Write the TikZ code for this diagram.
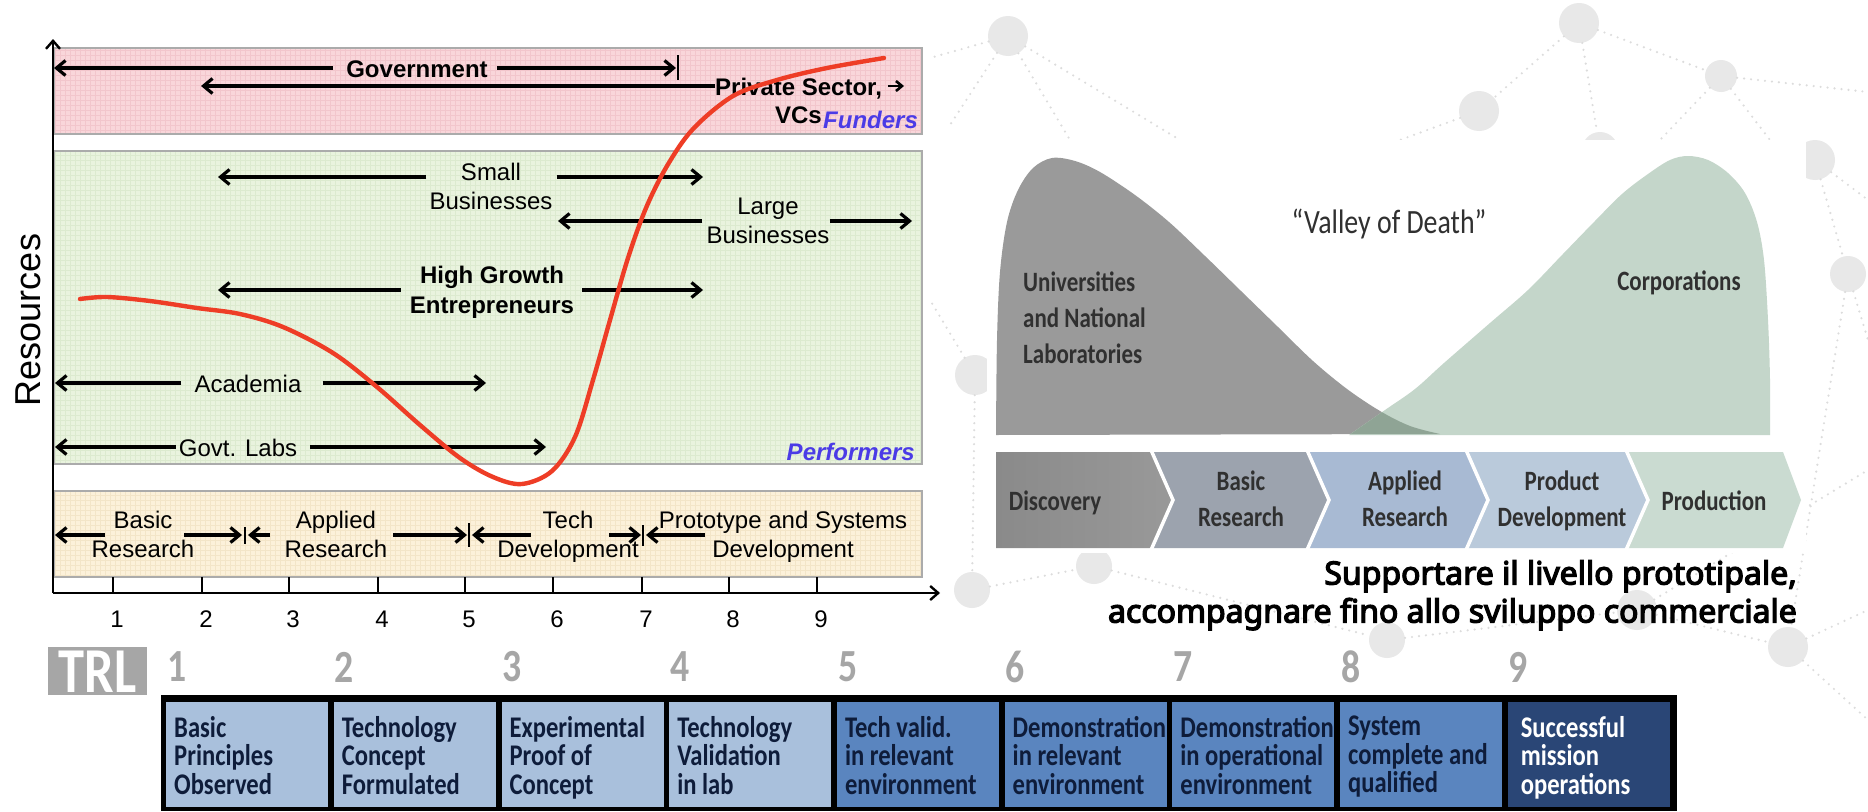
\documentclass[tikz,border=0pt]{standalone}
\usepackage{fontspec}
\setmainfont{Liberation Sans}
\newfontfamily\calfont{Carlito}
\newfontfamily\calcond[FakeStretch=0.82]{Carlito}
\newfontfamily\segfont[FakeBold=4]{Noto Sans}
\usetikzlibrary{arrows.meta}
\definecolor{pinkf}{HTML}{F9D6DA}
\definecolor{pinkg}{HTML}{F2C6CC}
\definecolor{greenf}{HTML}{E9F3DE}
\definecolor{greeng}{HTML}{DCEACF}
\definecolor{yelf}{HTML}{FCF1DA}
\definecolor{yelg}{HTML}{F3E5C8}
\definecolor{boxb}{HTML}{ABABAB}
\definecolor{redc}{HTML}{EE3D26}
\definecolor{bluel}{HTML}{4B3BE6}
\definecolor{trlA}{HTML}{A9C0DC}
\definecolor{trlB}{HTML}{5A85BF}
\definecolor{trlC}{HTML}{2A4676}
\definecolor{trlT}{HTML}{0E1C3A}
\definecolor{trlG}{HTML}{A6A6A6}
\definecolor{netc}{HTML}{E8E8E8}
\definecolor{netl}{HTML}{DCDCDC}
\definecolor{humpG}{HTML}{9A9A9A}
\definecolor{humpS}{HTML}{C4D6CA}
\definecolor{humpO}{HTML}{8FA495}
\definecolor{chA}{HTML}{8A8A8A}
\definecolor{chAr}{HTML}{999999}
\definecolor{chB}{HTML}{9CA3AE}
\definecolor{chC}{HTML}{A8BAD3}
\definecolor{chD}{HTML}{BACADB}
\definecolor{chE}{HTML}{CADBD1}
\definecolor{vtxt}{HTML}{303030}
\tikzset{
  lab/.style={inner sep=0pt, align=center, font=\fontsize{24}{29}\selectfont},
  blab/.style={inner sep=0pt, align=center, font=\fontsize{24}{30}\selectfont\bfseries},
  flab/.style={inner sep=0pt, font=\fontsize{24}{29}\selectfont\bfseries\itshape, text=bluel},
  arr/.style={line width=3.2pt, -{Straight Barb[length=9pt,width=15pt]}},
  sarr/.style={line width=2.6pt, -{Straight Barb[length=6pt,width=10pt]}},
  barline/.style={line width=2.6pt},
  band/.style={draw=boxb, line width=2pt},
  axis/.style={line width=2.4pt},
  redcurve/.style={draw=redc, line width=4.4pt, line cap=round},
  tickline/.style={line width=2.2pt},
  trlcell/.style={rectangle, inner sep=0pt, minimum width=162pt, minimum height=105pt},
  trltext/.style={inner sep=0pt, align=left, font=\calcond\bfseries\fontsize{30}{28.5}\selectfont},
  trldig/.style={inner sep=0pt, text=trlG, font=\calcond\bfseries\fontsize{46}{46}\selectfont},
  vtext/.style={inner sep=0pt, text=vtxt, font=\calcond\bfseries\fontsize{28}{36}\selectfont},
  netnode/.style={circle, fill=netc, inner sep=0pt, minimum size=#1},
  netline/.style={draw=netl, line width=2.4pt, line cap=round, dash pattern=on 0pt off 7pt},
}
\begin{document}
\begin{tikzpicture}[x=1pt,y=-1pt]
\useasboundingbox (0,0) rectangle (1868,811);
\fill[white] (0,0) rectangle (1868,811);

% ---------- background network ----------
\node[netnode=40pt] (n1) at (1008,36) {};
\node[netnode=40pt] (n2) at (1579,23) {};
\node[netnode=32pt] (n3) at (1721,76) {};
\node[netnode=40pt] (n4) at (1479,111) {};
\node[netnode=36pt] (n5) at (1600,150) {};
\node[netnode=40pt] (n6) at (1815,160) {};
\node[netnode=36pt] (n7) at (1848,274) {};
\node[netnode=40pt] (n8) at (975,375) {};
\node[netnode=36pt] (n9) at (972,590) {};
\node[netnode=36pt] (n10) at (1094,566) {};
\node[netnode=36pt] (n11) at (1387,640) {};
\node[netnode=40pt] (n12) at (1637,610) {};
\node[netnode=40pt] (n13) at (1788,647) {};
\coordinate (f1) at (930,58);
\coordinate (f2) at (950,125);
\coordinate (f3) at (1070,140);
\coordinate (f4) at (1180,140);
\coordinate (f5) at (1868,92);
\coordinate (f6) at (1660,140);
\coordinate (f7) at (1770,140);
\coordinate (f8) at (1868,340);
\coordinate (f9) at (930,300);
\coordinate (f10) at (1868,610);
\coordinate (f11) at (1868,720);
\coordinate (f12) at (1868,200);
\coordinate (f13) at (1400,140);
\coordinate (f14) at (1868,470);
\foreach \a/\b in {n1/f1,n1/f2,n1/f3,n1/f4,n2/n4,n2/n5,n2/n3,n3/f5,n3/f6,n3/f7,n4/f13,n6/n7,n7/f8,n6/f12,n8/f9,n8/n9,n9/n10,n10/n11,n11/n12,n12/n13,n13/f10,n13/f11,n7/n13,n12/f14}
  \draw[netline] (\a) -- (\b);

% ---------- left chart: bands ----------
\fill[pinkf] (54,48) rectangle (922,134);
\draw[pinkg, line width=0.5pt, step=5pt] (54,48) grid (922,134);
\draw[band] (54,48) rectangle (922,134);
\fill[greenf] (54,151) rectangle (922,464);
\draw[greeng, line width=0.5pt, step=5pt] (54,151) grid (922,464);
\draw[band] (54,151) rectangle (922,464);
\fill[yelf] (54,491) rectangle (922,577);
\draw[yelg, line width=0.5pt, step=5pt] (54,491) grid (922,577);
\draw[band] (54,491) rectangle (922,577);

% axes
\coordinate (org) at (53,593);
\coordinate (ytop) at (53,39);
\coordinate (xend) at (940,593);
\draw[axis, -{Straight Barb[length=8pt,width=14pt]}] (org) -- (ytop);
\draw[axis, -{Straight Barb[length=8pt,width=14pt]}] (org) -- (xend);
\foreach \x/\k in {113/1,202/2,289/3,378/4,465/5,553/6,642/7,729/8,817/9}{
  \draw[tickline] (\x,577) -- (\x,593);
  \node[lab, anchor=base] (tk\k) at (\x+4,627) {\k};
}
\node[inner sep=0pt, rotate=90, font=\fontsize{36}{40}\selectfont] (res) at (28,320) {Resources};

% ---------- funders ----------
\node[blab, anchor=base] (gov) at (417,77) {Government};
\coordinate (govL) at (54,68);
\coordinate (govR) at (676,68);
\draw[arr, shorten <=13pt] (gov.west |- govL) -- (govL);
\draw[arr, shorten <=9pt] (gov.east |- govR) -- (govR);
\draw[barline] (678,55) -- (678,80);
\node[blab, anchor=base west] (priv) at (715,95) {Private Sector,};
\coordinate (privL) at (201,86);
\coordinate (privS) at (888,86);
\coordinate (privE) at (904,86);
\draw[arr] (priv.west |- privL) -- (privL);
\draw[sarr] (privS) -- (privE);
\node[blab, anchor=base east] (vcs) at (822,123) {VCs};
\node[flab, anchor=base west] (fund) at (823,128) {Funders};

% ---------- performers ----------
\node[lab, anchor=north] (sb) at (491,163) {Small\\Businesses};
\coordinate (sbL) at (218,177);
\coordinate (sbR) at (703,177);
\draw[arr, shorten <=3pt] (sb.west |- sbL) -- (sbL);
\draw[arr, shorten <=4pt] (sb.east |- sbR) -- (sbR);
\node[lab, anchor=north] (lb) at (768,198) {Large\\Businesses};
\coordinate (lbL) at (558,221);
\coordinate (lbR) at (912,221);
\draw[arr, shorten <=4pt] (lb.west |- lbL) -- (lbL);
\draw[arr, shorten <=0pt] (lb.east |- lbR) -- (lbR);
\node[blab, anchor=north] (hg) at (492,266) {High Growth\\Entrepreneurs};
\coordinate (hgL) at (218,290);
\coordinate (hgR) at (703,290);
\draw[arr, shorten <=9pt] (hg.west |- hgL) -- (hgL);
\draw[arr, shorten <=8pt] (hg.east |- hgR) -- (hgR);
\node[lab, anchor=base] (aca) at (248,392) {Academia};
\coordinate (acaL) at (55,383);
\coordinate (acaR) at (486,383);
\draw[arr, shorten <=13pt] (aca.west |- acaL) -- (acaL);
\draw[arr, shorten <=21pt] (aca.east |- acaR) -- (acaR);
\node[lab, anchor=base] (gl) at (238,456) {Govt. Labs};
\coordinate (glL) at (55,447);
\coordinate (glR) at (546,447);
\draw[arr, shorten <=3pt] (gl.west |- glL) -- (glL);
\draw[arr, shorten <=13pt] (gl.east |- glR) -- (glR);
\node[flab, anchor=base east] (perf) at (915,460) {Performers};

% ---------- stages ----------
\node[lab, anchor=north] (br) at (143,511) {Basic\\Research};
\node[lab, anchor=north] (ar) at (336,511) {Applied\\Research};
\node[lab, anchor=north] (td) at (568,511) {Tech\\Development};
\node[lab, anchor=north] (pd) at (783,511) {Prototype and Systems\\Development};
\coordinate (s0) at (55,535);
\coordinate (s1) at (105,535);
\coordinate (s2) at (184,535);
\coordinate (s3) at (242,535);
\coordinate (s4) at (270,535);
\coordinate (s5) at (248,535);
\coordinate (s6) at (393,535);
\coordinate (s7) at (467,535);
\coordinate (s8) at (531,535);
\coordinate (s9) at (472,535);
\coordinate (s10) at (609,535);
\coordinate (s11) at (641,535);
\coordinate (s12) at (705,535);
\coordinate (s13) at (646,535);
\draw[arr] (s1) -- (s0);
\draw[arr] (s2) -- (s3);
\draw[arr] (s4) -- (s5);
\draw[arr] (s6) -- (s7);
\draw[arr] (s8) -- (s9);
\draw[arr] (s10) -- (s11);
\draw[arr] (s12) -- (s13);
\draw[barline] (245,527) -- (245,544);
\draw[barline] (469,523) -- (469,547);
\draw[barline] (643,525) -- (643,546);

% ---------- red curve ----------
\draw[redcurve] plot[smooth, tension=0.55] coordinates {(80,299) (107,297) (150,301) (197,308) (240,314) (283,327) (333,353) (377,387) (420,425) (460,458) (493,477) (522,484) (552,471) (575,437) (593,380) (610,320) (628,258) (646,208) (667,166) (693,129) (733,96) (777,80) (827,68) (884,58)};

% ---------- TRL row ----------
\fill[trlG] (48,647) rectangle (147,695);
\node[inner sep=0pt, text=white, font=\calcond\bfseries\fontsize{64}{64}\selectfont] (trl) at (97.5,672) {TRL};
\fill[black] (161,695) rectangle (1677,811);
\foreach \i/\c/\tc/\txt in {
 1/trlA/trlT/{Basic\\Principles\\Observed},
 2/trlA/trlT/{Technology\\Concept\\Formulated},
 3/trlA/trlT/{Experimental\\Proof of\\Concept},
 4/trlA/trlT/{Technology\\Validation\\in lab},
 5/trlB/trlT/{Tech valid.\\in relevant\\environment},
 6/trlB/trlT/{Demonstration\\in relevant\\environment},
 7/trlB/trlT/{Demonstration\\in operational\\environment},
 8/trlB/trlT/{System\\complete and\\qualified},
 9/trlC/white/{Successful\\mission\\operations}}{
  \pgfmathsetmacro\bx{166+167.7*(\i-1)}
  \pgfmathsetmacro\ind{\i==9 ? 13 : 8}
  \node[trlcell, fill=\c, anchor=north west] (c\i) at (\bx,702) {};
  \node[trltext, text=\tc, anchor=north west] (t\i) at (\bx+\ind,716) {\txt};
  \node[trldig, anchor=west] (d\i) at (\bx+1,667) {\i};
}

% ---------- valley of death ----------
\fill[white] (987,140) rectangle (1806,553);
\def\grayhump{(996,435) -- plot[smooth, tension=0.55] coordinates {(996,435) (997,340) (1000,272) (1007,222) (1018,190) (1033,168) (1052,158) (1075,161) (1100,172) (1135,195) (1169,222) (1205,256) (1241,291) (1278,327) (1313,361) (1347,389) (1380,411) (1410,426) (1440,434)} -- cycle}
\def\greenhump{(1349,435) -- plot[smooth, tension=0.55] coordinates {(1349,435) (1385,410) (1415,389) (1444,363) (1490,323) (1528,290) (1562,255) (1594,222) (1622,194) (1648,174) (1670,160) (1688,156) (1708,160) (1728,173) (1745,193) (1757,222) (1764,260) (1768,320) (1770,380) (1770,435)} -- cycle}
\fill[humpG] \grayhump;
\fill[humpS] \greenhump;
\begin{scope}
  \clip \grayhump;
  \fill[humpO] \greenhump;
\end{scope}
\node[vtext, align=left, anchor=north west] (univ) at (1023,272) {Universities\\and National\\Laboratories};
\node[vtext, anchor=base] (corp) at (1679,290) {Corporations};
\node[inner sep=0pt, text=vtxt, font=\calcond\fontsize{34}{36}\selectfont, anchor=base] (vod) at (1389,233) {“Valley of Death”};

\shade[left color=chA, right color=chAr] (996,452) -- (1151,452) -- (1173,500) -- (1151,548) -- (996,548) -- cycle;
\fill[chB] (1151,452) -- (1307,452) -- (1329,500) -- (1307,548) -- (1151,548) -- (1173,500) -- cycle;
\fill[chC] (1307,452) -- (1466,452) -- (1488,500) -- (1466,548) -- (1307,548) -- (1329,500) -- cycle;
\fill[chD] (1466,452) -- (1626,452) -- (1648,500) -- (1626,548) -- (1466,548) -- (1488,500) -- cycle;
\fill[chE] (1626,452) -- (1783,452) -- (1801,500) -- (1783,548) -- (1626,548) -- (1648,500) -- cycle;
\foreach \x in {1151,1307,1466,1626}
  \draw[white, line width=3.5pt] (\x,450) -- (\x+22,500) -- (\x,550);
\node[vtext, anchor=base] (disc) at (1055,510) {Discovery};
\node[vtext, align=center, anchor=north] (bres) at (1241,471) {Basic\\Research};
\node[vtext, align=center, anchor=north] (ares) at (1405,471) {Applied\\Research};
\node[vtext, align=center, anchor=north] (pdev) at (1562,471) {Product\\Development};
\node[vtext, anchor=base] (prod) at (1714,510) {Production};

\node[inner sep=0pt, align=right, anchor=north east, font=\segfont\fontsize{32}{38}\selectfont] (supp) at (1797,560) {Supportare il livello prototipale,\\accompagnare fino allo sviluppo commerciale};
\end{tikzpicture}
\end{document}
